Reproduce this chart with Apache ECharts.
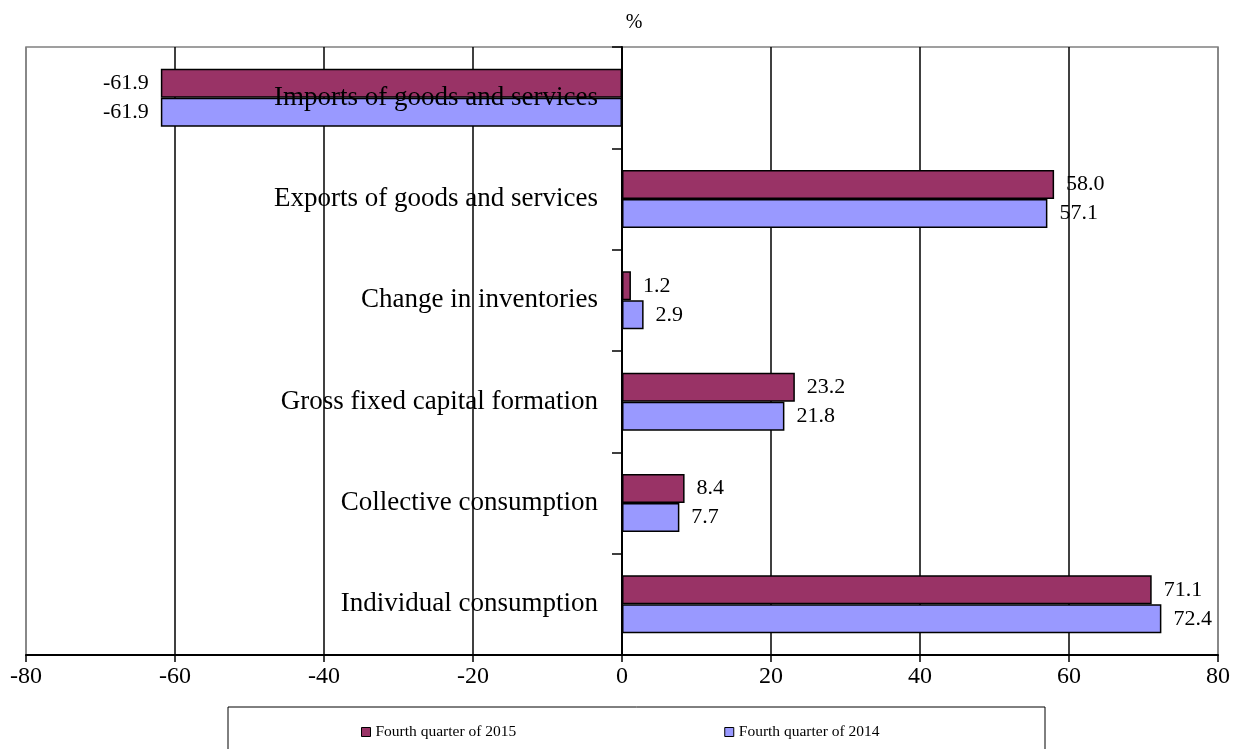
<!DOCTYPE html>
<html>
<head>
<meta charset="utf-8">
<script src="https://cdn.jsdelivr.net/npm/echarts@6/dist/echarts.min.js"></script>
<style>
html,body{margin:0;padding:0;background:#fff;}
#chart{width:1245px;height:749px;}
</style>
</head>
<body>
<div id="chart"></div>
<script>
var categories = ['Individual consumption', 'Collective consumption', 'Gross fixed capital formation', 'Change in inventories', 'Exports of goods and services', 'Imports of goods and services'];
var seriesNames = ['Fourth quarter of 2015', 'Fourth quarter of 2014'];
var values2015 = [71.1, 8.4, 23.2, 1.2, 58.0, -61.9];
var values2014 = [72.4, 7.7, 21.8, 2.9, 57.1, -61.9];
var xTicks = { min: -80, max: 80, interval: 20 };

var FONT = "'Liberation Serif', 'Times New Roman', serif";
var GRID_LEFT = 26, GRID_RIGHT = 27, CHART_W = 1245;

function toItems(arr) {
  return arr.map(function (v) {
    return { value: v, label: { position: v < 0 ? 'left' : 'right' } };
  });
}

function barSeries(name, arr, color) {
  return {
    name: name,
    type: 'bar',
    data: toItems(arr),
    barWidth: 29,
    barGap: '0%',
    itemStyle: { color: color, borderColor: '#000', borderWidth: 1.5 },
    label: {
      show: true,
      distance: 12,
      color: '#000',
      fontFamily: FONT,
      fontSize: 22,
      formatter: function (p) { return p.value.toFixed(1); }
    }
  };
}

// offset of the category axis so that it sits at x = 0 of the value axis
var plotW = CHART_W - GRID_LEFT - GRID_RIGHT;
var zeroOffset = -plotW * (0 - xTicks.min) / (xTicks.max - xTicks.min);

var chart = echarts.init(document.getElementById('chart'));
chart.setOption({
  animation: false,
  backgroundColor: '#fff',
  title: {
    text: '%',
    left: 629,
    top: 8,
    textAlign: 'center',
    textStyle: { fontFamily: FONT, fontSize: 20, fontWeight: 'normal', color: '#000' }
  },
  grid: {
    left: GRID_LEFT, right: GRID_RIGHT, top: 47, bottom: 94,
    show: true, borderColor: '#808080', borderWidth: 1.5,
    containLabel: false, outerBoundsMode: 'none'
  },
  legend: {
    data: seriesNames,
    left: 356,
    top: 719,
    itemGap: 208,
    itemWidth: 9,
    itemHeight: 9,
    icon: 'rect',
    itemStyle: { borderColor: '#000', borderWidth: 1 },
    textStyle: { fontFamily: FONT, fontSize: 15.5, color: '#000' }
  },
  graphic: [{
    type: 'rect',
    shape: { x: 228, y: 707, width: 817, height: 60 },
    style: { fill: 'none', stroke: '#000', lineWidth: 1 },
    silent: true
  }],
  xAxis: {
    type: 'value',
    min: xTicks.min, max: xTicks.max, interval: xTicks.interval,
    axisLine: { show: true, lineStyle: { color: '#000', width: 2 } },
    axisTick: { show: true, length: 7, lineStyle: { color: '#000', width: 1.5 } },
    axisLabel: { color: '#000', fontFamily: FONT, fontSize: 24, margin: 10 },
    splitLine: {
      show: true,
      lineStyle: { color: ['#808080', '#000', '#000', '#000', '#000', '#000', '#000', '#000', '#808080'], width: 1.5 }
    }
  },
  yAxis: {
    type: 'category',
    data: categories,
    z: 10,
    offset: zeroOffset,
    axisLine: { show: true, onZero: false, lineStyle: { color: '#000', width: 2 } },
    axisTick: { show: true, length: 10, lineStyle: { color: '#000', width: 1.5 } },
    axisLabel: { color: '#000', fontFamily: FONT, fontSize: 27, margin: 24 },
    splitLine: { show: false }
  },
  series: [
    barSeries(seriesNames[0], values2015, '#993366'),
    barSeries(seriesNames[1], values2014, '#9999FF')
  ]
});
</script>
</body>
</html>
